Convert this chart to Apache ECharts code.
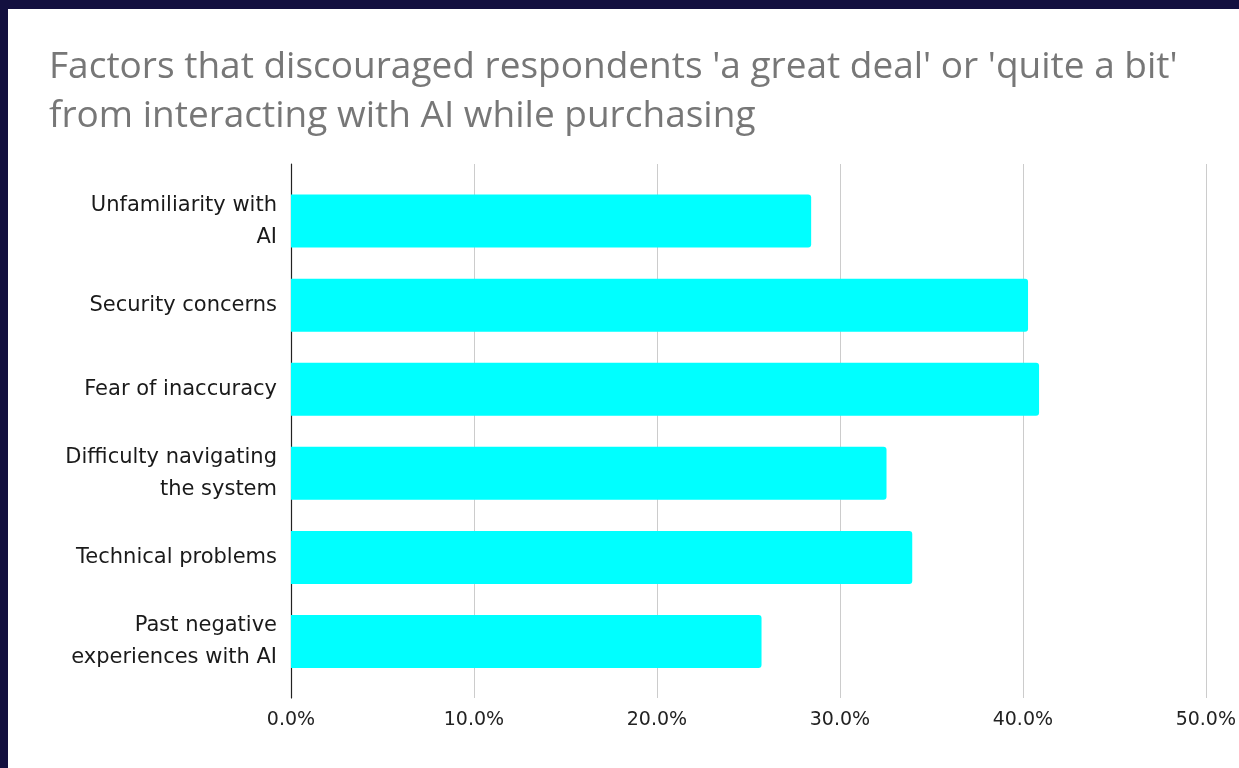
<!DOCTYPE html>
<html>
<head>
<meta charset="utf-8">
<script src="https://cdn.jsdelivr.net/npm/echarts@6/dist/echarts.min.js"></script>
<style>
  html, body { margin: 0; padding: 0; background: #13103f; }
  #panel { position: absolute; left: 8px; top: 9px; right: 0; bottom: 0; background: #ffffff; }
  #chart { position: absolute; left: 0; top: 0; width: 1239px; height: 768px; }
</style>
</head>
<body>
<div id="panel"></div>
<div id="chart"></div>
<script>
// Survey factors (top to bottom) and share of respondents, in percent
const categories = [
  'Unfamiliarity with\nAI',
  'Security concerns',
  'Fear of inaccuracy',
  'Difficulty navigating\nthe system',
  'Technical problems',
  'Past negative\nexperiences with AI'
];
const shares = [28.3, 40.1, 40.7, 32.4, 33.8, 25.6];
const axisMin = 0;
const axisMax = 50;
const axisStep = 10;
const titleText = "Factors that discouraged respondents 'a great deal' or 'quite a bit'\nfrom interacting with AI while purchasing";

const chart = echarts.init(document.getElementById('chart'), null, { renderer: 'canvas' });

const pctLabel = v => v.toFixed(1) + '%';

chart.setOption({
  backgroundColor: 'transparent',
  animation: false,
  title: {
    text: titleText,
    left: 44,
    top: 38,
    textStyle: {
      fontFamily: 'Open Sans',
      fontSize: 37,
      fontWeight: 'normal',
      color: '#777777',
      lineHeight: 49
    }
  },
  grid: [
    // frame for gridlines, baseline and percentage ticks
    { left: 291, right: 29, top: 164, bottom: 70, containLabel: false },
    // inner band area holding the bars
    { left: 291, right: 29, top: 179, bottom: 84.4, containLabel: false }
  ],
  xAxis: [
    {
      gridIndex: 0,
      type: 'value',
      min: axisMin,
      max: axisMax,
      interval: axisStep,
      axisLine: { show: false },
      axisTick: { show: false },
      splitLine: { show: true, lineStyle: { color: '#cccccc', width: 1 } },
      axisLabel: {
        formatter: pctLabel,
        margin: 13,
        color: '#222222',
        fontFamily: 'DejaVu Sans',
        fontSize: 19
      }
    },
    {
      gridIndex: 1,
      type: 'value',
      min: axisMin,
      max: axisMax,
      interval: axisStep,
      show: false
    }
  ],
  yAxis: [
    {
      gridIndex: 0,
      type: 'value',
      min: 0,
      max: 1,
      axisLine: { show: true, onZero: false, lineStyle: { color: '#222222', width: 1.2 } },
      axisTick: { show: false },
      axisLabel: { show: false },
      splitLine: { show: false },
      z: 1
    },
    {
      gridIndex: 1,
      type: 'category',
      inverse: true,
      data: categories,
      axisLine: { show: false },
      axisTick: { show: false },
      splitLine: { show: false },
      axisLabel: {
        margin: 14,
        align: 'right',
        color: '#1a1a1a',
        fontFamily: 'DejaVu Sans',
        fontSize: 21,
        lineHeight: 32
      }
    }
  ],
  series: [
    {
      type: 'bar',
      xAxisIndex: 1,
      yAxisIndex: 1,
      data: shares,
      barWidth: 53,
      itemStyle: { color: '#00ffff', borderRadius: [0, 3, 3, 0] },
      z: 3
    }
  ]
});
</script>
</body>
</html>
